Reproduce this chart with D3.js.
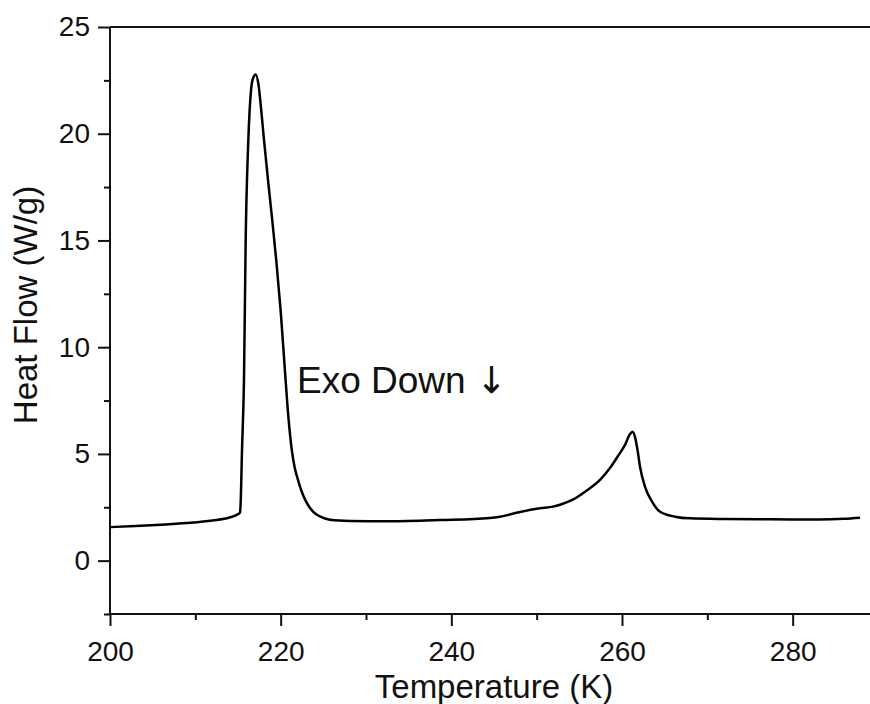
<!DOCTYPE html>
<html>
<head>
<meta charset="utf-8">
<script src="https://cdn.jsdelivr.net/npm/d3@7"></script>
<style>
  html, body { margin: 0; padding: 0; background: #fff; overflow: hidden; }
  svg { display: block; overflow: hidden; font-family: "Liberation Sans", Arial, sans-serif; }
</style>
</head>
<body>
<div id="chart"></div>
<script>
// DSC trace
const temperature = [200, 203, 206, 209, 212, 214, 215, 215.23, 215.3, 215.47, 215.7, 215.9, 216.21, 216.53,
  216.76, 217.07, 217.4, 217.7, 218.0, 218.5, 219.0, 219.5, 220.0, 220.5, 220.9, 221.3, 221.65,
  222.03, 222.45, 222.85, 223.3, 223.79, 224.6, 225.78, 228.1, 232.8, 238.7, 244.5, 245.7, 248.05, 250.39,
  251.92, 252.74, 253.56, 254.49, 255.67, 257.42, 258.59, 259.53, 260.35, 260.94, 261.23, 261.52, 261.82,
  262.11, 262.7, 263.52, 264.46, 266.21, 267.97, 272, 276, 280, 283, 286, 287.9];
const heatFlow = [1.57, 1.62, 1.68, 1.76, 1.88, 2.02, 2.18, 2.25, 2.6, 5.18, 8.46, 15.02, 19.7, 22.05,
  22.6, 22.78, 22.3, 21.2, 19.9, 17.9, 16.0, 14.0, 11.7, 8.9, 6.75, 5.2, 4.35,
  3.78, 3.25, 2.87, 2.55, 2.3, 2.07, 1.92, 1.86, 1.84, 1.9, 2.0, 2.06, 2.28, 2.45,
  2.53, 2.62, 2.74, 2.91, 3.23, 3.78, 4.34, 4.9, 5.42, 5.93, 6.04, 5.8, 5.18,
  4.4, 3.46, 2.76, 2.29, 2.06, 1.98, 1.95, 1.94, 1.93, 1.93, 1.96, 2.01];

const xMajor = [200, 220, 240, 260, 280];
const xMinor = [210, 230, 250, 270];
const yMajor = [0, 5, 10, 15, 20, 25];
const yMinor = [-2.5, 2.5, 7.5, 12.5, 17.5, 22.5];

const xTitle = "Temperature (K)";
const yTitle = "Heat Flow (W/g)";
const note = "Exo Down ";
const arrow = "\u2193";

const width = 870, height = 704;
const svg = d3.select("#chart").append("svg")
  .attr("width", width).attr("height", height);

const x = d3.scaleLinear().domain([200, 290]).range([110, 878]);
const y = d3.scaleLinear().domain([-2.5, 25]).range([614, 27]);

// top and bottom edges of the frame, both running off the right side
svg.append("g").selectAll("line")
  .data([25, -2.5])
  .join("line")
  .attr("x1", x(200)).attr("x2", width)
  .attr("y1", d => y(d)).attr("y2", d => y(d))
  .attr("stroke", "#111").attr("stroke-width", 2);

const styleAxis = g => {
  g.select(".domain").remove();
  g.selectAll("line").attr("stroke", "#111").attr("stroke-width", 2);
  g.selectAll("text").attr("fill", "#111").style("font-size", "28px");
};

// bottom axis: major ticks with labels, then minor ticks
svg.append("g").attr("transform", `translate(0,${y(-2.5)})`)
  .call(d3.axisBottom(x).tickValues(xMajor).tickSize(12).tickPadding(8))
  .call(styleAxis)
  .selectAll("text").attr("dy", "0.95em");

svg.append("g").attr("transform", `translate(0,${y(-2.5)})`)
  .call(d3.axisBottom(x).tickValues(xMinor).tickSize(6).tickFormat(""))
  .call(styleAxis);

// left axis
svg.append("line")
  .attr("x1", x(200)).attr("x2", x(200))
  .attr("y1", y(25)).attr("y2", y(-2.5))
  .attr("stroke", "#111").attr("stroke-width", 2);

svg.append("g").attr("transform", `translate(${x(200)},0)`)
  .call(d3.axisLeft(y).tickValues(yMajor).tickSize(12).tickPadding(8))
  .call(styleAxis);

svg.append("g").attr("transform", `translate(${x(200)},0)`)
  .call(d3.axisLeft(y).tickValues(yMinor).tickSize(6).tickFormat(""))
  .call(styleAxis);

// curve
const pts = temperature.map((t, i) => [t, heatFlow[i]]);
svg.append("path")
  .datum(pts)
  .attr("fill", "none")
  .attr("stroke", "#000")
  .attr("stroke-width", 2.5)
  .attr("stroke-linejoin", "round")
  .attr("d", d3.line().x(d => x(d[0])).y(d => y(d[1])).curve(d3.curveMonotoneX));

// titles
svg.append("text")
  .attr("x", 494).attr("y", 698)
  .attr("text-anchor", "middle")
  .style("font-size", "33px").attr("fill", "#111")
  .text(xTitle);

svg.append("text")
  .attr("transform", `translate(37,305) rotate(-90)`)
  .attr("text-anchor", "middle")
  .style("font-size", "33px").attr("fill", "#111")
  .text(yTitle);

const noteText = svg.append("text")
  .attr("x", 297).attr("y", 393)
  .style("font-size", "37px").attr("fill", "#111")
  .attr("xml:space", "preserve");
noteText.append("tspan").text(note);
noteText.append("tspan")
  .style("font-family", "'DejaVu Sans', sans-serif")
  .style("font-size", "37px")
  .text(arrow);
</script>
</body>
</html>
